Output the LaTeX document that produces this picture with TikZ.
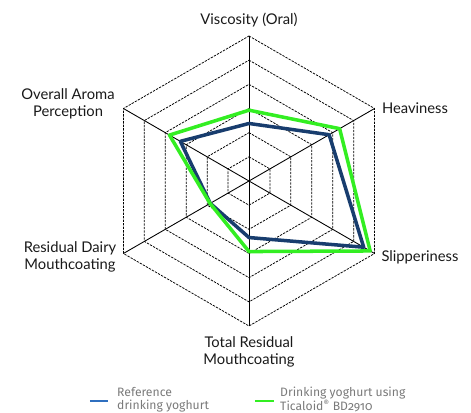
\documentclass[tikz,border=0pt]{standalone}
\usepackage{fontspec}
\setmainfont{Lato}
\newfontfamily\legendfont[Numbers=OldStyle]{Fira Sans}
\usetikzlibrary{positioning}

\definecolor{navy}{HTML}{183D6E}
\definecolor{limegreen}{HTML}{33EE22}
\definecolor{legendblue}{HTML}{2F6FBF}
\definecolor{legendgray}{HTML}{7A7A7A}

\tikzset{
  ring/.style={black, line width=0.65pt, dash pattern=on 2pt off 1pt},
  spoke/.style={black, line width=0.75pt},
  axislabel/.style={font=\fontsize{12.6}{15}\selectfont, text=black!90, align=center, inner sep=0pt},
  refline/.style={draw=navy, line width=3pt, line join=round},
  ticaline/.style={draw=limegreen, line width=3pt, line join=round},
  legendtext/.style={font=\legendfont\fontsize{10.4}{11.5}\selectfont, text=legendgray, align=left, anchor=west, inner sep=0pt}
}

\begin{document}
\begin{tikzpicture}
\useasboundingbox (-7.47,-6.96) rectangle (6.66,5.43);
\def\rs{0.725}
        % Draw the rings
        \foreach \i in {1,...,6}
            \draw[ring] (90:{\i*\rs}) -- (30:{\i*\rs}) -- (-30:{\i*\rs})
                -- (-90:{\i*\rs}) -- (-150:{\i*\rs}) -- (150:{\i*\rs}) -- cycle;
        % Axis ends and spokes
        \coordinate (c) at (0,0);
        \foreach \a/\n in {90/visc, 30/heavy, -30/slip, -90/resid, -150/dairy, 150/aroma}
        {
            \coordinate (\n) at (\a:{6*\rs});
            \draw[spoke] (c) -- (\n);
        }
        % Axis labels
        \node[axislabel] at (0, 4.83)     (lvisc)  {Viscosity (Oral)};
        \node[axislabel] at (4.98, 2.19)  (lheavy) {Heaviness};
        \node[axislabel] at (5.13, -2.28) (lslip)  {Slipperiness};
        \node[axislabel] at (0, -5.13)    (lresid) {Total Residual\\Mouthcoating};
        \node[axislabel] at (-5.37, -2.28) (ldairy) {Residual Dairy\\Mouthcoating};
        \node[axislabel] at (-5.43, 2.31) (laroma) {Overall Aroma\\Perception};
        % Draw the profiles
        \draw[refline] (90:{2.38*\rs}) -- (30:{3.83*\rs}) -- (-30:{5.48*\rs})
            -- (-90:{2.34*\rs}) -- (-150:{1.85*\rs}) -- (150:{3.28*\rs}) -- cycle;
        \draw[ticaline] (90:{2.93*\rs}) -- (30:{4.33*\rs}) -- (-30:{5.79*\rs})
            -- (-90:{2.92*\rs}) -- (-150:{1.86*\rs}) -- (150:{3.80*\rs}) -- cycle;
        % Legend
        \coordinate (refa) at (-4.77, -6.6);
        \coordinate (refb) at (-4.23, -6.6);
        \coordinate (tica) at (0.18, -6.6);
        \coordinate (ticb) at (0.75, -6.6);
        \draw[draw=legendblue, line width=2.5pt] (refa) -- (refb);
        \draw[draw=limegreen, line width=2.5pt] (tica) -- (ticb);
        \node[legendtext] at (-3.96, -6.56) (lref)  {Reference\\drinking yoghurt};
        \node[legendtext] at (0.93, -6.56)  (ltica) {Drinking yoghurt using\\Ticaloid\textsuperscript{®} BD2910};
\end{tikzpicture}
\end{document}
